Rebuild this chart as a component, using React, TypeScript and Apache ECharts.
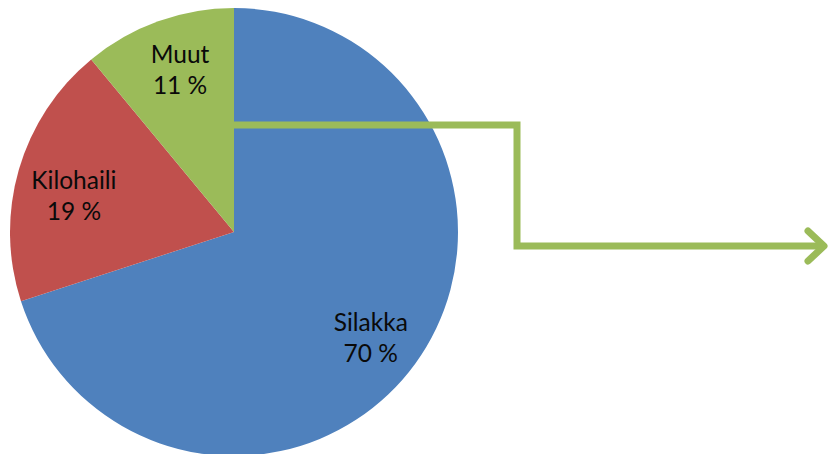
import React, { useEffect, useRef } from "react";
import * as echarts from "echarts";

const categories = ["Silakka", "Kilohaili", "Muut"];
const shares = [70, 19, 11];
const colors = ["#4F81BD", "#C0504D", "#9BBB59"];
const labelNudges = [
  [-4, 3],
  [7, 12],
  [5, 1],
];

export default function App() {
  const ref = useRef<HTMLDivElement>(null);
  useEffect(() => {
    if (!ref.current) return;
    const chart = echarts.init(ref.current, null, { renderer: "svg" });
    const data = categories.map((name, i) => ({
      name,
      value: shares[i],
      itemStyle: { color: colors[i] },
    }));
    chart.setOption({
      animation: false,
      backgroundColor: "#ffffff",
      series: [
        {
          type: "pie",
          center: [234, 232],
          radius: [0, 224],
          startAngle: 90,
          clockwise: true,
          silent: true,
          label: { show: false },
          labelLine: { show: false },
          itemStyle: { borderWidth: 0 },
          data,
        },
        {
          type: "pie",
          center: [234, 232],
          radius: [118, 224],
          startAngle: 90,
          clockwise: true,
          silent: true,
          itemStyle: { color: "transparent", borderWidth: 0 },
          labelLine: { show: false },
          label: {
            show: true,
            position: "inside",
            formatter: "{b}\n{c} %",
            fontFamily: "Lato, 'Noto Sans', sans-serif",
            fontSize: 24.5,
            lineHeight: 31,
            color: "#0a0a0a",
          },
          labelLayout: (p: any) => ({
            dx: labelNudges[p.dataIndex][0],
            dy: labelNudges[p.dataIndex][1],
          }),
          data: categories.map((name, i) => ({ name, value: shares[i] })),
        },
      ],
      graphic: [
        {
          type: "polyline",
          silent: true,
          z: 100,
          shape: {
            points: [
              [234, 125],
              [517, 125],
              [517, 246],
              [824, 246],
            ],
          },
          style: { stroke: "#9BBB59", lineWidth: 7, fill: "none", lineJoin: "miter" },
        },
        {
          type: "polyline",
          silent: true,
          z: 100,
          shape: {
            points: [
              [808, 231],
              [824, 246],
              [808, 261],
            ],
          },
          style: { stroke: "#9BBB59", lineWidth: 7, fill: "none", lineJoin: "round", lineCap: "round" },
        },
      ],
    });
    return () => chart.dispose();
  }, []);
  return (
    <div
      ref={ref}
      style={{ position: "fixed", left: 0, top: 0, width: 829, height: 454 }}
    />
  );
}
